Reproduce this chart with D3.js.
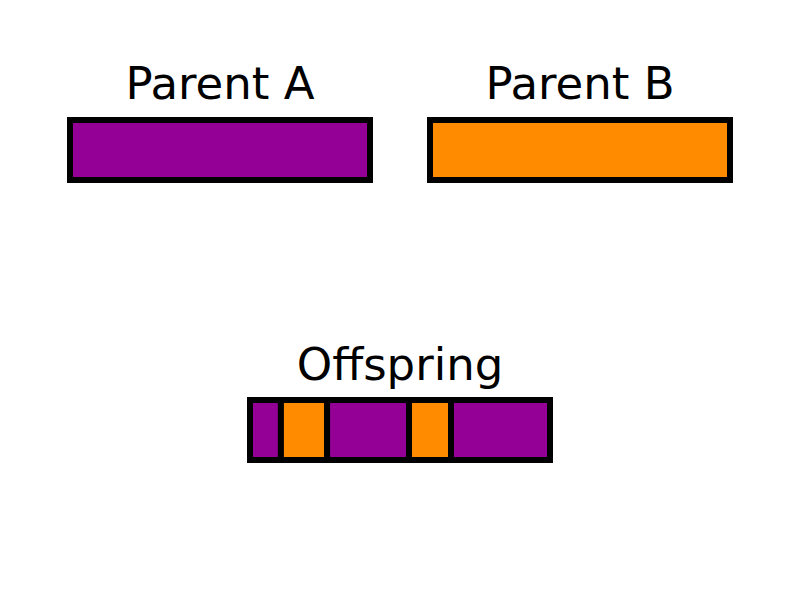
<!DOCTYPE html>
<html>
<head>
<meta charset="utf-8">
<script src="https://cdn.jsdelivr.net/npm/d3@7"></script>
<style>
  body { margin: 0; background: #fff; }
  text { font-family: "DejaVu Sans", sans-serif; }
</style>
</head>
<body>
<svg id="chart" width="800" height="600"></svg>
<script>
// parents: name + which genome colour
var parentNames = ["Parent A", "Parent B"];
var parentSources = ["A", "B"];

// offspring segments, start/end as fraction of chromosome length
var segStarts = [0, 0.103, 0.257, 0.53, 0.67];
var segEnds = [0.103, 0.257, 0.53, 0.67, 1];
var segSources = ["A", "B", "A", "B", "A"];

var colour = d3.scaleOrdinal()
    .domain(["A", "B"])
    .range(["#940096", "#ff8c00"]);

var svg = d3.select("#chart");

// each parent bar 300 px wide with a 60 px gap
var parentX = d3.scaleBand().domain(parentNames).range([70, 730]).paddingInner(1 / 6).paddingOuter(0);
var barH = 60;

var parents = svg.selectAll("g.parent")
    .data(parentNames)
    .enter().append("g")
    .attr("class", "parent")
    .attr("transform", function(d) { return "translate(" + parentX(d) + ",120)"; });

parents.append("rect")
    .attr("width", parentX.bandwidth())
    .attr("height", barH)
    .attr("fill", function(d, i) { return colour(parentSources[i]); })
    .attr("stroke", "black")
    .attr("stroke-width", 6);

parents.append("text")
    .attr("x", parentX.bandwidth() / 2)
    .attr("y", -21)
    .attr("text-anchor", "middle")
    .attr("font-size", 45)
    .text(function(d) { return d; });

// offspring
var x = d3.scaleLinear().domain([0, 1]).range([250, 550]);
var off = svg.append("g");

off.selectAll("rect")
    .data(segStarts)
    .enter().append("rect")
    .attr("x", function(d) { return x(d); })
    .attr("y", 400)
    .attr("width", function(d, i) { return x(segEnds[i]) - x(d); })
    .attr("height", barH)
    .attr("fill", function(d, i) { return colour(segSources[i]); })
    .attr("stroke", "black")
    .attr("stroke-width", 6);

off.append("text")
    .attr("x", x(0.5))
    .attr("y", 380)
    .attr("text-anchor", "middle")
    .attr("font-size", 45)
    .text("Offspring");
</script>
</body>
</html>
